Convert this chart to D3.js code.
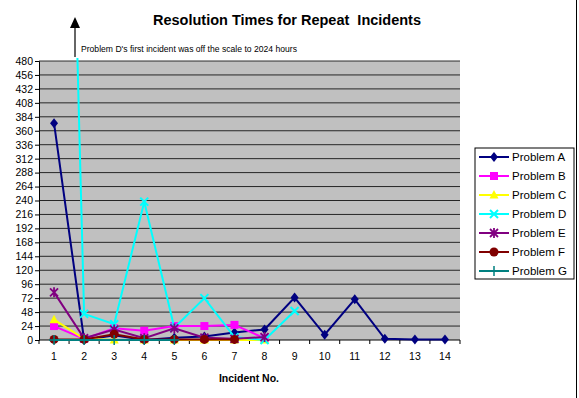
<!DOCTYPE html>
<html><head><meta charset="utf-8">
<script src="https://cdn.jsdelivr.net/npm/d3@7/dist/d3.min.js"></script>
<style>
body{margin:0;background:#fff;}
svg{display:block;font-family:"Liberation Sans",Arial,sans-serif;}
</style></head>
<body><svg id="c" width="579" height="398"></svg>
<script>
const categories = [1,2,3,4,5,6,7,8,9,10,11,12,13,14];
const yTicks = d3.range(0, 481, 24);
const seriesNames = ["Problem A","Problem B","Problem C","Problem D","Problem E","Problem F","Problem G"];
const problemA = [373, 0, 8, 0, 4, 6, 13, 18, 73, 9, 70, 2, 1, 1];
const problemB = [24, 2, 20, 16, 24, 24, 26, 3];
const problemC = [35, 2, 0, 0, 0, 0, 0, 0];
const problemD = [2024, 45, 27, 238, 21, 72, 5, 0, 50];
const problemE = [82, 3, 18, 3, 20, 4, 2, 5];
const problemF = [1, 1, 10, 1, 1, 1, 1];
const problemG = [0, 0, 0, 0, 0];
const colors = ["#000080","#FF00FF","#FFFF00","#00FFFF","#800080","#800000","#008080"];
const markers = ["diamond","square","triangle","x","star","circle","plus"];
const seriesValues = [problemA, problemB, problemC, problemD, problemE, problemF, problemG];
const title = "Resolution Times for Repeat  Incidents";
const note = "Problem D's first incident was off the scale to 2024 hours";
const xTitle = "Incident No.";

const svg = d3.select("#c");
const L = 39, R = 460, T = 61, B = 340;
const x = d3.scaleBand().domain(categories).range([L, R]);
const y = d3.scaleLinear().domain([0, 480]).range([B, T]);

svg.append("rect").attr("x", L).attr("y", T).attr("width", R - L).attr("height", B - T).attr("fill", "#C0C0C0");
svg.append("g").selectAll("line").data(yTicks.filter(d => d > 0)).join("line")
  .attr("x1", L).attr("x2", R).attr("y1", d => y(d)).attr("y2", d => y(d))
  .attr("stroke", "#000").attr("stroke-width", 1).attr("opacity", 0.8);

const ya = svg.append("g").attr("transform", `translate(${L},0)`)
  .call(d3.axisLeft(y).tickValues(yTicks).tickSize(4).tickPadding(2).tickFormat(d3.format("d")));
ya.select(".domain").attr("stroke", "#000");
ya.selectAll("text").attr("font-size", "10.5px").attr("fill", "#000").attr("font-family", "Liberation Sans, Arial, sans-serif");

const xa = svg.append("g").attr("transform", `translate(0,${B})`);
xa.append("line").attr("x1", L).attr("x2", R).attr("stroke", "#000");
xa.selectAll("line.t").data(d3.range(categories.length + 1)).join("line").attr("class", "t")
  .attr("x1", i => L + i * x.step()).attr("x2", i => L + i * x.step()).attr("y1", 0).attr("y2", 4).attr("stroke", "#000");
xa.selectAll("text").data(categories).join("text")
  .attr("x", d => x(d) + x.bandwidth() / 2).attr("y", 20).attr("text-anchor", "middle")
  .attr("font-size", "10.5px").text(d => d);

svg.append("clipPath").attr("id", "clip").append("rect").attr("x", L).attr("y", T - 3).attr("width", R - L).attr("height", B - T + 10);

const cx = i => x(categories[i]) + x.bandwidth() / 2;

function drawMarker(g, type, color, px, py) {
  const s = 4;
  if (type === "diamond") g.append("path").attr("d", `M${px},${py - s - 1}L${px + s},${py}L${px},${py + s + 1}L${px - s},${py}Z`).attr("fill", color);
  else if (type === "square") g.append("rect").attr("x", px - 4).attr("y", py - 4).attr("width", 8).attr("height", 8).attr("fill", color);
  else if (type === "triangle") g.append("path").attr("d", `M${px},${py - 5}L${px + 4.5},${py + 3.5}L${px - 4.5},${py + 3.5}Z`).attr("fill", color);
  else if (type === "x") g.append("path").attr("d", `M${px - 4},${py - 4}L${px + 4},${py + 4}M${px - 4},${py + 4}L${px + 4},${py - 4}`).attr("stroke", color).attr("stroke-width", 2);
  else if (type === "star") g.append("path").attr("d", `M${px - 4},${py - 4}L${px + 4},${py + 4}M${px - 4},${py + 4}L${px + 4},${py - 4}M${px},${py - 5}L${px},${py + 5}`).attr("stroke", color).attr("stroke-width", 1.8);
  else if (type === "circle") g.append("circle").attr("cx", px).attr("cy", py).attr("r", 4.5).attr("fill", color);
  else if (type === "plus") g.append("path").attr("d", `M${px - 5},${py}L${px + 5},${py}M${px},${py - 5}L${px},${py + 5}`).attr("stroke", color).attr("stroke-width", 1.5);
}

const plot = svg.append("g").attr("clip-path", "url(#clip)");
seriesValues.forEach((vals, si) => {
  const g = plot.append("g");
  const line = d3.line().x((d, i) => cx(i)).y(d => y(d));
  g.append("path").datum(vals).attr("d", line).attr("fill", "none").attr("stroke", colors[si]).attr("stroke-width", 2);
  vals.forEach((v, i) => { if (v <= 480) drawMarker(g, markers[si], colors[si], cx(i), y(v)); });
});

svg.append("text").attr("x", 287).attr("y", 25).attr("text-anchor", "middle")
  .attr("font-size", "14.5px").attr("font-weight", "bold").style("white-space", "pre").text(title);
svg.append("text").attr("x", 81).attr("y", 52).attr("font-size", "8.6px").text(note);
svg.append("line").attr("x1", 75).attr("x2", 75).attr("y1", 57).attr("y2", 26).attr("stroke", "#333").attr("stroke-width", 1.5);
svg.append("path").attr("d", "M75,17L80,28L70,28Z").attr("fill", "#000");

svg.append("text").attr("x", 249).attr("y", 382).attr("text-anchor", "middle")
  .attr("font-size", "10.5px").attr("font-weight", "bold").text(xTitle);

const lg = svg.append("g");
lg.append("rect").attr("x", 475).attr("y", 148).attr("width", 99).attr("height", 131)
  .attr("fill", "#fff").attr("stroke", "#000").attr("stroke-width", 1);
seriesNames.forEach((n, i) => {
  const yy = 157 + i * 19;
  lg.append("line").attr("x1", 479).attr("x2", 509).attr("y1", yy).attr("y2", yy).attr("stroke", colors[i]).attr("stroke-width", 2);
  drawMarker(lg, markers[i], colors[i], 494, yy);
  lg.append("text").attr("x", 512).attr("y", yy + 4).attr("font-size", "11.5px").text(n);
});

svg.append("line").attr("x1", 576.5).attr("x2", 576.5).attr("y1", 0).attr("y2", 398).attr("stroke", "#000");
</script></body></html>
